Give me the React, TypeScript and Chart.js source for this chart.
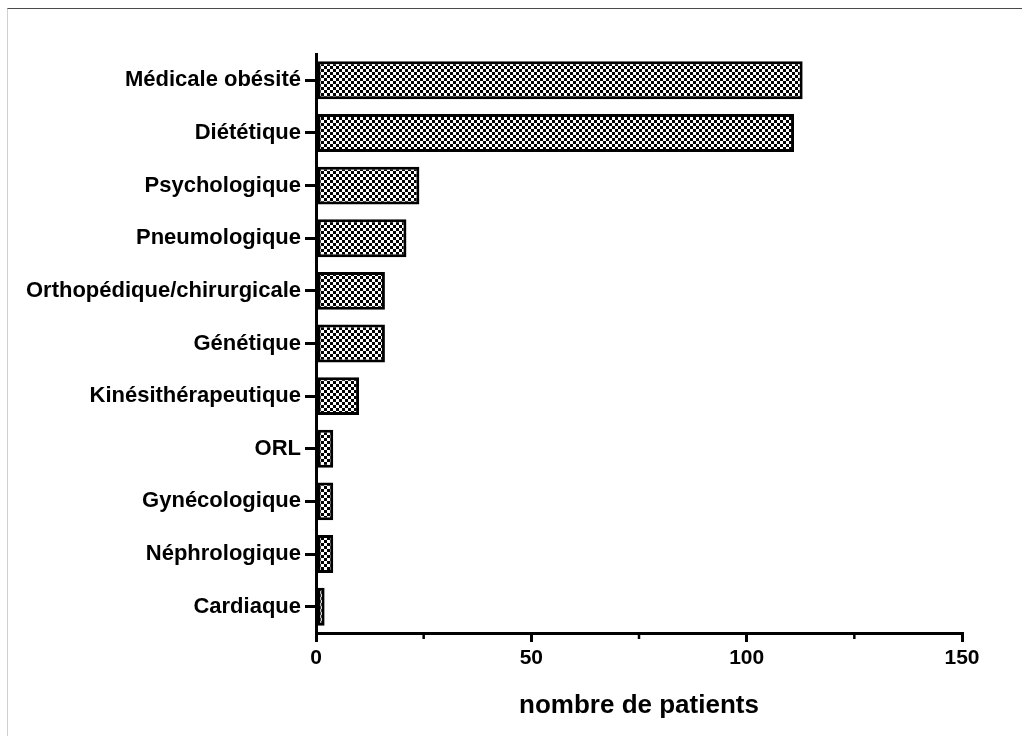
import React, { useEffect, useRef } from "react";
import { Chart, registerables } from "chart.js";

Chart.register(...registerables);

const categories = [
  "Médicale obésité",
  "Diététique",
  "Psychologique",
  "Pneumologique",
  "Orthopédique/chirurgicale",
  "Génétique",
  "Kinésithérapeutique",
  "ORL",
  "Gynécologique",
  "Néphrologique",
  "Cardiaque",
];
const patients = [113, 111, 24, 21, 16, 16, 10, 4, 4, 4, 2];
const xMin = 0;
const xMax = 150;
const xStep = 25;
const xLabelStep = 50;
const xTitle = "nombre de patients";

const FONT = "'Liberation Sans', Arial, Helvetica, sans-serif";

function makePattern(ctx: CanvasRenderingContext2D): CanvasPattern | string {
  const c = document.createElement("canvas");
  c.width = 6;
  c.height = 6;
  const p = c.getContext("2d");
  if (!p) return "#888";
  p.fillStyle = "#ffffff";
  p.fillRect(0, 0, 6, 6);
  p.fillStyle = "#000000";
  p.fillRect(0, 0, 3, 3);
  p.fillRect(3, 3, 3, 3);
  return ctx.createPattern(c, "repeat") || "#888";
}

const minorTicks = {
  id: "minorTicks",
  afterDraw(chart: any) {
    const scale = chart.scales.x;
    const ctx = chart.ctx;
    const y0 = chart.chartArea.bottom;
    ctx.save();
    ctx.strokeStyle = "#000";
    ctx.lineWidth = 2.5;
    for (let v = xMin; v <= xMax; v += xStep) {
      if (v % xLabelStep === 0) continue;
      const x = scale.getPixelForValue(v);
      ctx.beginPath();
      ctx.moveTo(x, y0);
      ctx.lineTo(x, y0 + 6);
      ctx.stroke();
    }
    ctx.restore();
  },
};

export default function App() {
  const ref = useRef<HTMLCanvasElement | null>(null);

  useEffect(() => {
    const canvas = ref.current;
    if (!canvas) return;
    const ctx = canvas.getContext("2d");
    if (!ctx) return;
    const pattern = makePattern(ctx);
    const chart = new Chart(canvas, {
      type: "bar",
      data: {
        labels: categories,
        datasets: [
          {
            data: patients,
            backgroundColor: pattern as any,
            borderColor: "#000",
            borderWidth: 3,
            borderSkipped: false,
            categoryPercentage: 1,
            barPercentage: 0.72,
          },
        ],
      },
      options: {
        indexAxis: "y",
        animation: false,
        responsive: false,
        devicePixelRatio: 1,
        layout: { padding: { left: 0, right: 60, top: 54, bottom: 0 } },
        plugins: {
          legend: { display: false },
          tooltip: { enabled: false },
        },
        scales: {
          x: {
            type: "linear",
            min: xMin,
            max: xMax,
            afterFit: (s: any) => {
              s.height = 103;
            },
            ticks: {
              stepSize: xStep,
              autoSkip: false,
              maxRotation: 0,
              padding: 4,
              color: "#000",
              font: { family: FONT, size: 21, weight: "bold" },
              callback: (v: any) => (Number(v) % xLabelStep === 0 ? String(v) : ""),
            },
            grid: {
              display: true,
              drawOnChartArea: false,
              drawTicks: true,
              tickLength: 9,
              color: "#000",
              lineWidth: (c: any) => (c.tick && c.tick.value % xLabelStep === 0 ? 3 : 0),
            },
            border: { display: true, color: "#000", width: 3 },
            title: {
              display: true,
              text: xTitle,
              color: "#000",
              font: { family: FONT, size: 26, weight: "bold" },
              padding: { top: 15, bottom: 15 },
            },
          },
          y: {
            afterFit: (s: any) => {
              s.width = 316;
            },
            ticks: {
              autoSkip: false,
              padding: 4,
              color: "#000",
              font: { family: FONT, size: 22, weight: "bold" },
            },
            grid: {
              display: true,
              offset: false,
              drawOnChartArea: false,
              drawTicks: true,
              tickLength: 11,
              color: "#000",
              lineWidth: 3,
            },
            border: { display: true, color: "#000", width: 3 },
          },
        },
      },
      plugins: [minorTicks],
    });
    return () => chart.destroy();
  }, []);

  return (
    <div
      style={{
        position: "fixed",
        left: 0,
        top: 0,
        width: 1022,
        height: 736,
        background: "#fff",
        overflow: "hidden",
      }}
    >
      <div
        style={{
          position: "absolute",
          left: 7,
          top: 8,
          right: 0,
          bottom: 0,
          borderTop: "1px solid #4a4a4a",
          borderLeft: "1px solid #d0d0d0",
        }}
      />
      <canvas
        ref={ref}
        width={1022}
        height={736}
        style={{ position: "absolute", left: 0, top: 0, width: 1022, height: 736 }}
      />
    </div>
  );
}
